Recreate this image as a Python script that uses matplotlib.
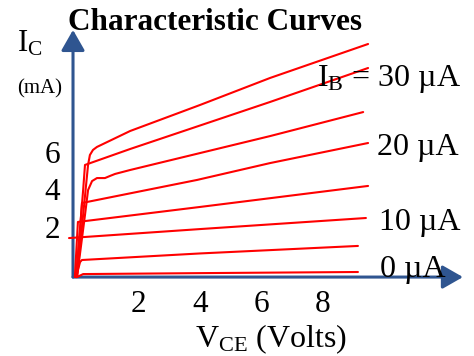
import matplotlib
matplotlib.use("Agg")
import matplotlib.pyplot as plt
from matplotlib.transforms import offset_copy

plt.rcParams['font.family'] = ['Liberation Serif', 'DejaVu Serif']
plt.rcParams['mathtext.fontset'] = 'custom'
plt.rcParams['mathtext.rm'] = 'Liberation Serif'
plt.rcParams['mathtext.it'] = 'Liberation Serif:italic'
plt.rcParams['mathtext.bf'] = 'Liberation Serif:bold'

# curvas caracteristicas (V_CE en voltios, I_C en mA)
curva_a_v = [0, 0.36, 0.42, 0.52, 0.65, 1.73, 4.01, 6.29, 9.48]
curva_a_i = [-0.67, 5.31, 5.84, 6.11, 6.27, 7.12, 8.51, 9.95, 11.76]
curva_b_v = [-0.03, 0.20, 0.26, 1.73, 6.29, 9.48]
curva_b_i = [-0.67, 3.97, 5.31, 6.16, 8.67, 10.48]
curva_c_v = [0, 0.26, 0.36, 0.49, 0.65, 0.91, 1.07, 1.24, 1.73, 6.29, 9.32]
curva_c_i = [-0.67, 2.64, 3.97, 4.45, 4.61, 4.61, 4.72, 4.83, 5.04, 6.85, 8.13]
curva_d_v = [-0.03, 0.10, 0.16, 3.91, 6.29, 9.48]
curva_d_i = [-0.67, 1.84, 3.28, 4.51, 5.41, 6.48]
curva_e_v = [-0.07, 0.03, 4.01, 9.48]
curva_e_i = [-0.67, 2.27, 3.07, 4.19]
curva_f_v = [-0.26, 4.01, 9.41]
curva_f_i = [1.41, 1.89, 2.48]
curva_g_v = [-0.03, 0.10, 0.16, 4.01, 9.15]
curva_g_i = [-0.67, 0.13, 0.24, 0.59, 0.99]
curva_h_v = [0, 0.20, 4.01, 9.15]
curva_h_i = [-0.67, -0.51, -0.46, -0.40]

curvas = [(curva_a_v, curva_a_i), (curva_b_v, curva_b_i), (curva_c_v, curva_c_i),
          (curva_d_v, curva_d_i), (curva_e_v, curva_e_i), (curva_f_v, curva_f_i),
          (curva_g_v, curva_g_i), (curva_h_v, curva_h_i)]

xticks = [2, 4, 6, 8]
yticks = [2, 4, 6]
etiquetas_ib = [r'$\mathrm{I_B}$ = 30 µA', '20 µA', '10 µA', '0 µA']

W, H = 474, 356
fig = plt.figure(figsize=(W / 100, H / 100), dpi=100)
ax = fig.add_axes([0, 0, 1, 1])
ax.set_xlim(-2.508, 12.93)
ax.set_ylim(-4.88, 14.107)
ax.axis('off')


def px(x, y):
    # posicion en pixeles de la figura -> fraccion
    return x / W, 1 - y / H


azul = '#2f5590'
origen = (-0.13, -0.67)
flecha = dict(arrowstyle='-|>,head_length=0.42,head_width=0.24', color=azul,
              lw=2.2, mutation_scale=30, shrinkA=0, shrinkB=0)
ax.annotate('', xy=(origen[0], 12.51), xytext=origen, arrowprops=flecha, zorder=2)
ax.annotate('', xy=(12.57, origen[1]), xytext=origen, arrowprops=flecha, zorder=2)

for v, i in curvas:
    ax.plot(v, i, color='#ff0000', lw=1.5, solid_capstyle='round',
            solid_joinstyle='round', zorder=3)

# etiquetas de los ejes
tx = offset_copy(ax.transData, fig=fig, x=0, y=-10.5, units='dots')
for t in xticks:
    ax.text(t, -1.97, str(t), ha='center', va='baseline', fontsize=22.5,
            transform=tx)
for t in yticks:
    ax.text(-0.81, t, str(t), ha='center', va='baseline', fontsize=22.5,
            transform=tx)

fig.text(*px(215, 30), 'Characteristic Curves', ha='center', va='baseline',
         fontsize=22.5, fontweight='bold')
fig.text(*px(17, 52), r'$\mathrm{I_C}$', ha='left', va='baseline', fontsize=22)
fig.text(*px(17, 93), '(mA)', ha='left', va='baseline', fontsize=15)
fig.text(*px(195, 347), r'$\mathrm{V_{CE}}$ (Volts)', ha='left', va='baseline',
         fontsize=23)

pos_ib = [(317, 86), (377, 155), (379, 230), (380, 277)]
for txt, (x, y) in zip(etiquetas_ib, pos_ib):
    fig.text(*px(x, y), txt, ha='left', va='baseline', fontsize=23, zorder=5)

fig.savefig('out.png', dpi=100)
